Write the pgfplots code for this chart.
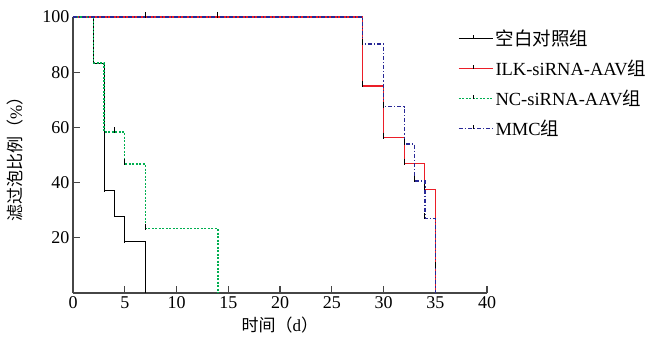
\documentclass[border=0pt]{standalone}
\usepackage{pgfplots}
\pgfplotsset{compat=1.18}
\usepackage{fontspec}
\setmainfont{Liberation Serif}
\newfontfamily\cjk{Noto Sans CJK SC}
\definecolor{cred}{RGB}{235,30,40}
\definecolor{cgreen}{RGB}{0,175,80}
\definecolor{cblue}{RGB}{40,40,150}
\definecolor{axgray}{RGB}{70,70,70}
\begin{document}
\begin{tikzpicture}
\useasboundingbox (-73pt,-49pt) rectangle (577pt,293pt);
\begin{axis}[
  at={(0,0)}, anchor=origin,
  scale only axis, width=414pt, height=276pt,
  xmin=0, xmax=40, ymin=0, ymax=100,
  axis x line=bottom, axis y line=left,
  axis line style={-, draw=axgray, line width=1.2pt},
  tick align=inside, major tick length=7pt,
  tick style={axgray, line width=1.1pt},
  xtick={0,5,...,40}, ytick={20,40,60,80,100},
  /pgf/number format/assume math mode=true,
  tick label style={font=\fontsize{18}{21}\selectfont},
  xlabel={{\cjk 时间（}d{\cjk ）}},
  ylabel={{\cjk 滤过泡比例（}\%{\cjk ）}},
  label style={font=\fontsize{17}{20}\selectfont},
  xlabel style={yshift=-1pt},
  ylabel style={yshift=12pt},
  legend cell align=left,
  legend style={at={(axis cs:36.9,96.8)}, anchor=north west, draw=none, fill=none,
    font=\fontsize{18.5}{22}\selectfont, row sep=9pt},
  legend image code/.code={
    \path (0pt,0pt) -- (34pt,0pt);
    \draw[#1] (0pt,0pt) -- (30pt,0pt);
    \draw[black,solid,line width=0.8pt] (15pt,0pt) -- (15pt,4pt);
  },
]
\addlegendimage{color=black, solid, line width=1.1pt}
\addlegendentry{\cjk 空白对照组}
\addlegendimage{color=cred, solid, line width=1.1pt}
\addlegendentry{ILK-siRNA-AAV{\cjk 组}}
\addlegendimage{color=cgreen, line width=1.4pt, dash pattern=on 2pt off 1.5pt}
\addlegendentry{NC-siRNA-AAV{\cjk 组}}
\addlegendimage{color=cblue, line width=1.3pt, dash pattern=on 4pt off 2pt on 1.2pt off 2pt}
\addlegendentry{MMC{\cjk 组}}
\addplot[const plot, color=black, line width=1.1pt, forget plot] coordinates {(0,100) (2,83.3) (3,37) (4,27.8) (5,18.5) (7,0)};
\addplot[const plot, color=cred, line width=1.1pt, forget plot] coordinates {(0,100) (28,75) (30,56.3) (32,46.9) (34,37.5) (35,0)};
\addplot[const plot, color=cgreen, line width=1.4pt, dash pattern=on 2pt off 1.5pt, forget plot] coordinates {(0,100) (2,83.3) (3,58.3) (5,46.7) (7,23.3) (14,0)};
\addplot[const plot, color=cblue, line width=1.3pt, dash pattern=on 4pt off 2pt on 1.2pt off 2pt, forget plot] coordinates {(0,100) (28,90.2) (30,67.5) (32,54) (33,40.6) (34,27) (35,0)};
\addplot[only marks, mark=|, mark size=3pt, black, mark options={line width=1pt, yshift=2pt}, forget plot] coordinates {
(7,100) (14,100) (4,58.3) (5,46.7) (7,23.3) (3,37) (4,27.8) (5,18.5)
(28,90.2) (28,75) (30,67.5) (30,56.3) (32,54) (32,46.9) (33,40.6) (34,37.5) (34,27) (35,9.4)};
\end{axis}
\end{tikzpicture}
\end{document}
